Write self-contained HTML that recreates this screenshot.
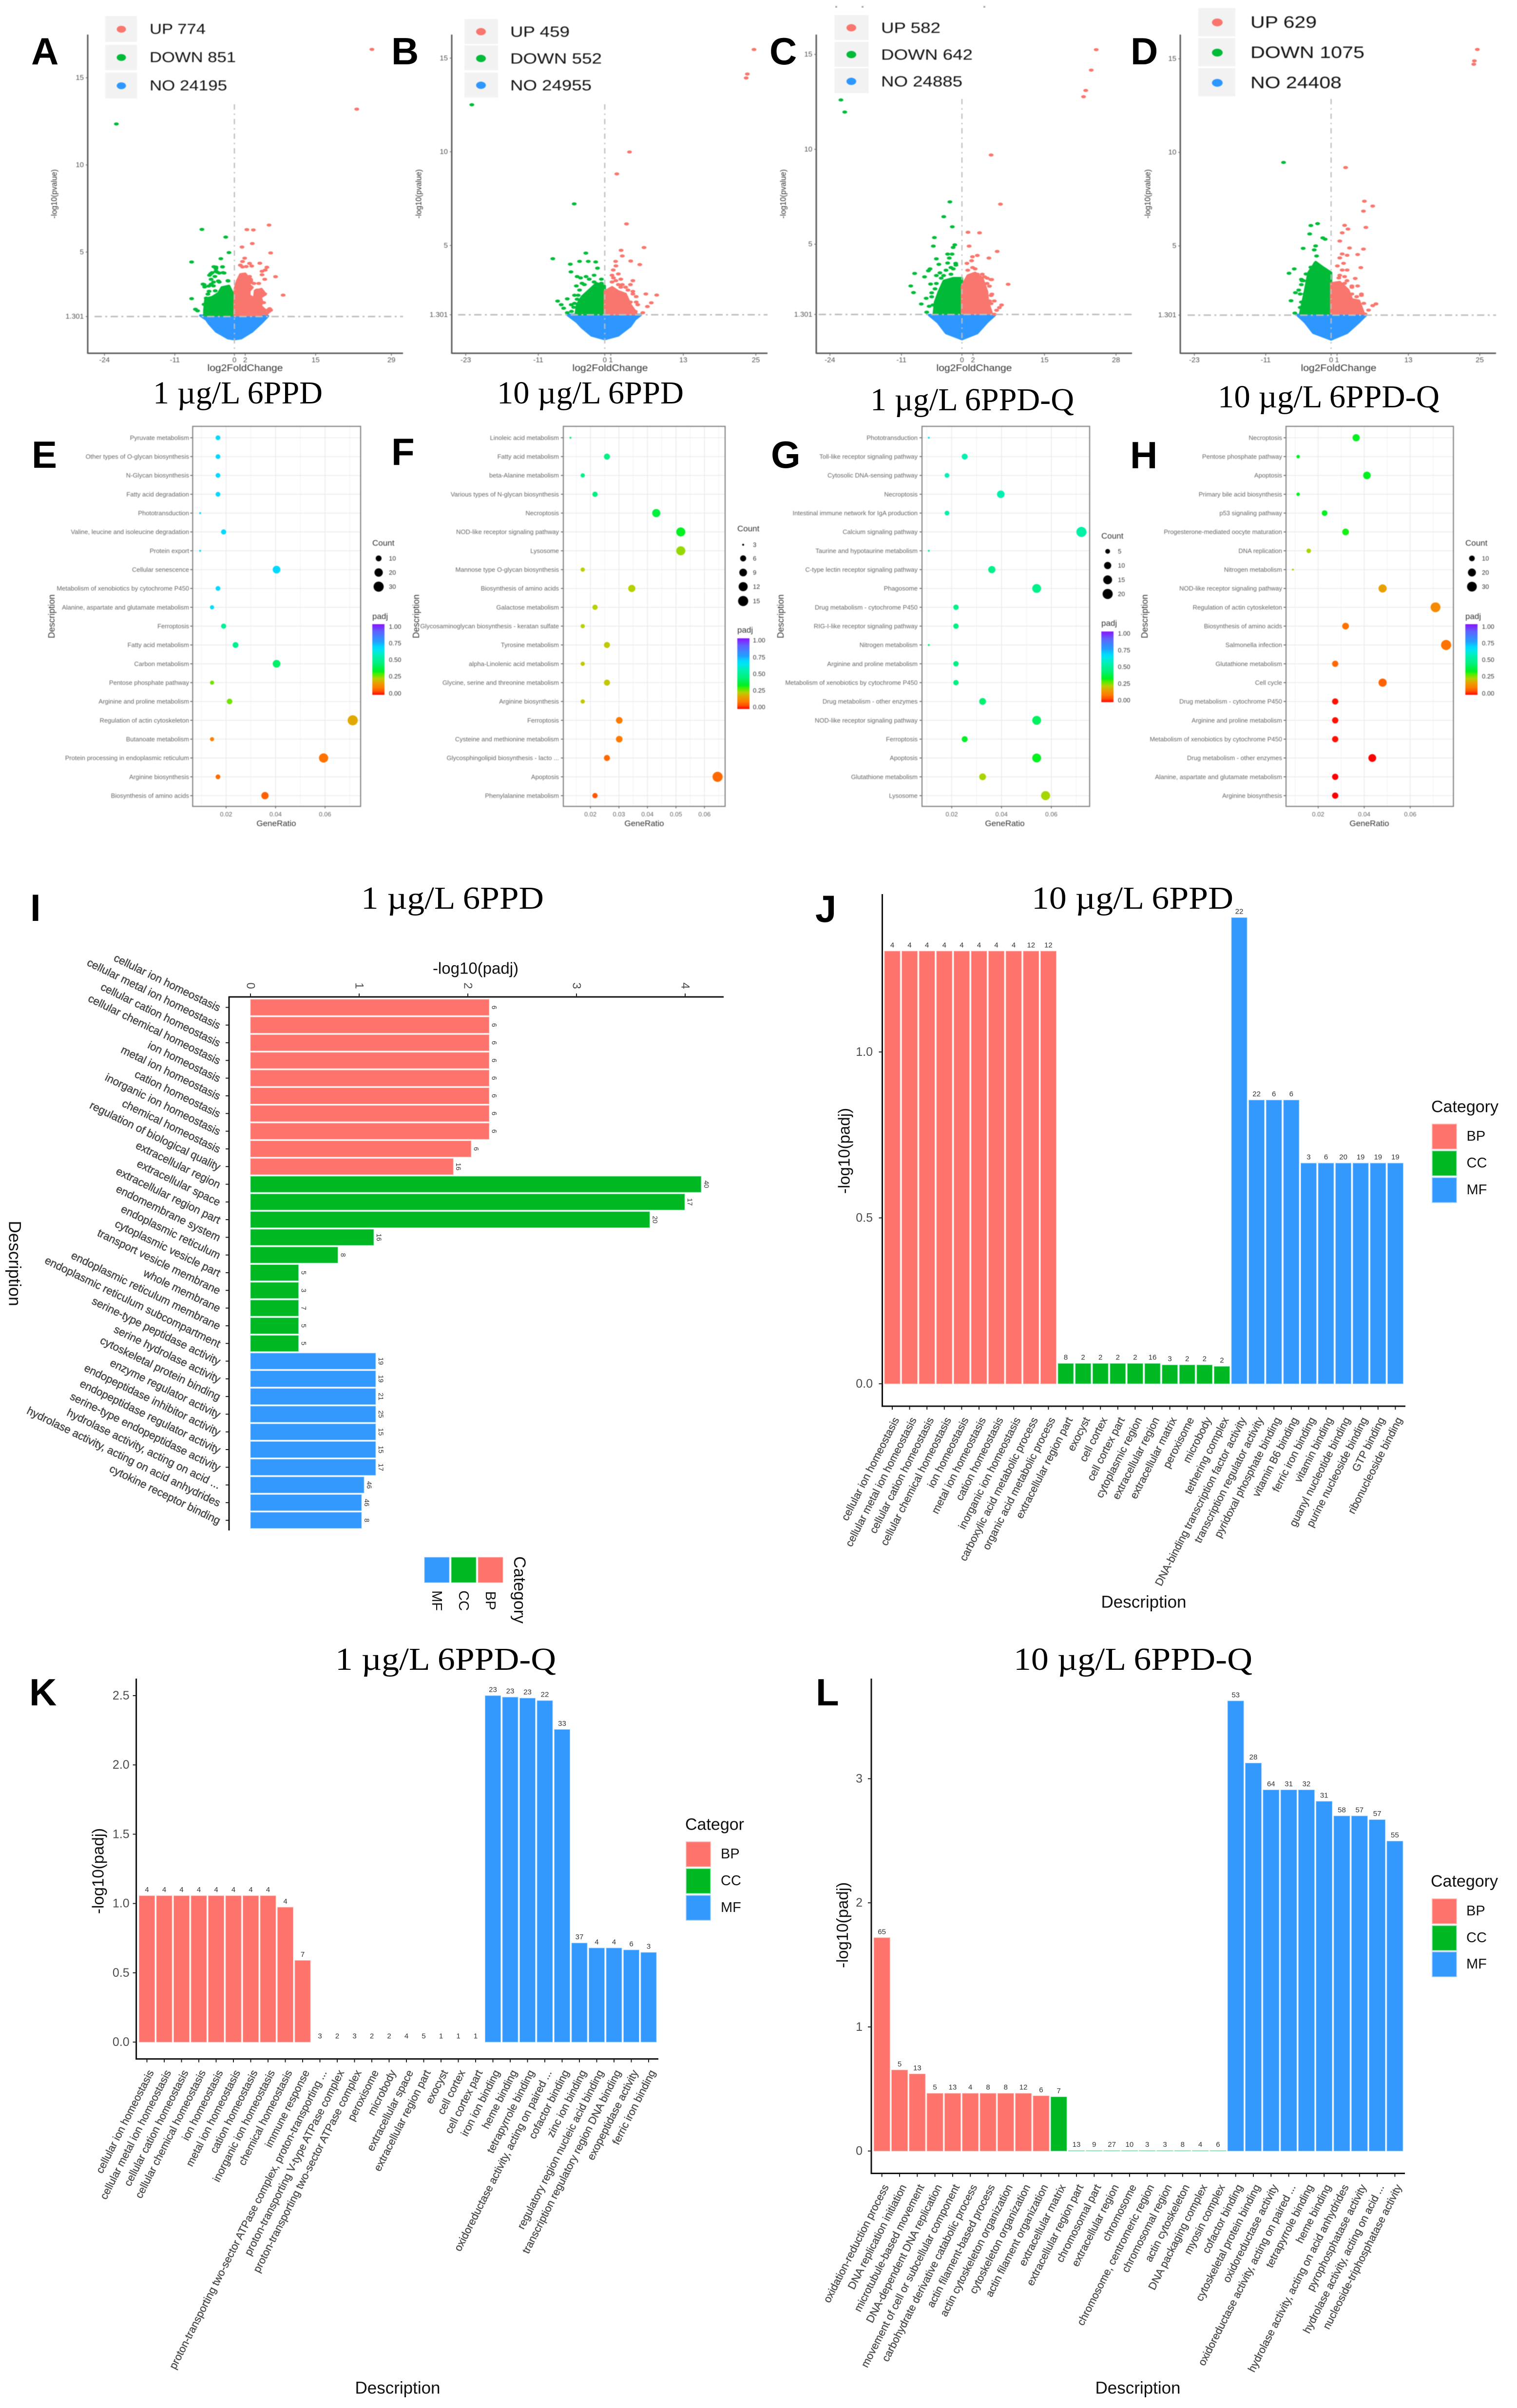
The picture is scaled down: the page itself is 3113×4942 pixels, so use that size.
<!DOCTYPE html>
<html lang="en">
<head>
<meta charset="utf-8">
<title>Transcriptome response to 6PPD and 6PPD-Q</title>
<style>
html,body{margin:0;padding:0;background:#fff;}
svg{display:block;font-family:"Liberation Sans",sans-serif;}
.letter{font-family:"Liberation Sans",sans-serif;font-weight:bold;font-size:78px;fill:#000;}
.heading{font-family:"Liberation Serif",serif;font-size:66px;fill:#000;}
.soft{filter:blur(0.7px);}
</style>
</head>
<body>
<svg id="figure" xmlns="http://www.w3.org/2000/svg" width="3113" height="4942" viewBox="0 0 3113 4942">
<rect width="3113" height="4942" fill="#fff"/>
<defs id="defs"></defs>
<g id="volcano-layer" class="soft"></g>
<g id="dot-layer" class="soft"></g>
<g id="bar-layer"></g>

<text class="heading" x="314" y="828" textLength="348" lengthAdjust="spacingAndGlyphs">1 µg/L 6PPD</text>
<text class="heading" x="1020" y="828" textLength="383" lengthAdjust="spacingAndGlyphs">10 µg/L 6PPD</text>
<text class="heading" x="1786" y="842" textLength="418" lengthAdjust="spacingAndGlyphs">1 µg/L 6PPD-Q</text>
<text class="heading" x="2499" y="836" textLength="455" lengthAdjust="spacingAndGlyphs">10 µg/L 6PPD-Q</text>
<text class="heading" x="741" y="1865" textLength="375" lengthAdjust="spacingAndGlyphs">1 µg/L 6PPD</text>
<text class="heading" x="2117" y="1865" textLength="414" lengthAdjust="spacingAndGlyphs">10 µg/L 6PPD</text>
<text class="heading" x="688" y="3427" textLength="453" lengthAdjust="spacingAndGlyphs">1 µg/L 6PPD-Q</text>
<text class="heading" x="2080" y="3427" textLength="490" lengthAdjust="spacingAndGlyphs">10 µg/L 6PPD-Q</text>

<text class="letter" x="64" y="132">A</text>
<text class="letter" x="803" y="132">B</text>
<text class="letter" x="1579" y="132">C</text>
<text class="letter" x="2320" y="132">D</text>
<text class="letter" x="65" y="960">E</text>
<text class="letter" x="803" y="954">F</text>
<text class="letter" x="1582" y="960">G</text>
<text class="letter" x="2319" y="961">H</text>
<text class="letter" x="62" y="1890">I</text>
<text class="letter" x="1673" y="1892">J</text>
<text class="letter" x="60" y="3500">K</text>
<text class="letter" x="1674" y="3500">L</text>
<rect x="1714" y="12" width="4" height="4" fill="#bbb"/>
<rect x="1768" y="12" width="4" height="4" fill="#bbb"/>
<rect x="2018" y="12" width="4" height="4" fill="#bbb"/>
</svg>

<script>
/* ---------- Volcano data: [log2FoldChange, -log10(pvalue)] ---------- */
const xTicksA=[-24,-11,0,2,15,29];
const yTicksA=[1.301,5,10,15];
const upPointsA=[[25.4,16.63],[22.6,13.2],[6.4,6.55],[2.3,6.29],[3.5,6.27],[3.3,5.49],[1.4,5.29],[6.7,4.95],[1.9,4.65],[1.5,4.46],[4.7,4.36],[6,4.13],[3.2,4.2],[2.2,4.17],[1.1,4.25],[5.1,3.9],[5.7,3.97],[7.6,3.59],[5.6,3.44],[4.5,3.2],[9,2.53],[5.1,2.75],[5.6,2.6],[4.2,2.82],[6.2,1.67],[6.7,1.67],[6.4,1.6],[6,1.5],[3.6,3.2],[2.8,3.6],[4.6,2.4],[5.4,2.1],[1.5,4.15],[2.8,4.35],[6.5,1.75],[5.8,1.45],[5.1,3.7]];
const downPointsA=[[-21.8,12.35],[-6,6.3],[-1.6,5.86],[-1,4.97],[-2.5,4.62],[-7.9,4.43],[-3.8,4.16],[-2.2,4.16],[-3.4,4.05],[-3.2,3.85],[-4.1,3.82],[-4.6,3.67],[-2.1,3.82],[-1.2,3.36],[-2.8,3.28],[-3.85,3.28],[-5.6,3.13],[-4.75,3.05],[-7.9,2.33],[-7.2,1.72],[-6.8,1.63],[-4.9,2.59],[-5.2,2.36],[-5.6,2],[-5.8,3.16],[-5.5,3],[-4.68,2.75],[-4.3,3.16],[-2.97,3.34],[-1.17,3.34],[-3.54,2.78],[-3.87,3.06],[-4.3,3.44],[-3.6,3.6],[-4.35,3.76],[-3.4,4.14],[-2.2,4.15],[-3.4,3.9],[-1.9,3.8],[-2.8,3.8]];
const upCloudA=[[0,1.38],[0.06,2.88],[0.5,3.34],[1.1,3.72],[2,3.76],[2.45,3.58],[3.2,3.43],[3.25,3.25],[2.45,3.2],[3.35,2.97],[2.76,2.78],[2.76,2.5],[3.66,2.36],[3.8,2.78],[5,2.88],[5.76,2.58],[4.86,2.41],[5.15,2.13],[4.86,1.91],[5.76,1.66],[4.86,1.38]];
const downCloudA=[[0,1.38],[-0.39,2.69],[-1,3.06],[-2.34,2.97],[-2.97,2.64],[-4.14,2.41],[-5.34,2.33],[-5.55,1.66],[-5.55,1.38]];
const noCloudA=[[-6.3,1.36],[-5.2,1.13],[-4.7,0.9],[-3.4,0.45],[-1.2,0.06],[0,0],[1.25,0.06],[3.3,0.45],[5.1,0.97],[6.2,1.33]];

const xTicksB=[-23,-11,0,1,13,25];
const yTicksB=[1.301,5,10,15];
const upPointsB=[[24.7,15.46],[23.6,14.15],[23.4,13.94],[4.1,9.99],[2,8.82],[3.6,6.15],[6.5,4.89],[2.7,4.74],[2.9,4.44],[1.8,4.15],[4.3,4.17],[5.8,3.98],[1.85,3.91],[1.4,3.69],[2.25,3.48],[1.2,3.41],[4.65,3.12],[4.25,2.91],[2.9,2.91],[1.85,3.12],[8.6,2.35],[6.8,2.41],[4.65,2.41],[7.7,1.94],[7.06,1.74],[6.3,1.41],[5.2,1.98],[2.65,2.77],[1.2,3.05],[2.25,2.91],[3.45,2.77],[4.65,2.55],[5.2,2.27],[4.25,1.98],[5.46,1.84],[3.85,2.62],[2.65,2.48],[1.44,3.27],[2.65,3.2],[5.05,1.48]];
const downPointsB=[[-22,12.51],[-5.06,7.22],[-3.13,4.59],[-8.6,4.29],[-4.17,4.15],[-2.73,4.15],[-1.5,4.12],[-5.7,4],[-1.2,3.79],[-5.6,3.59],[-4.57,3.34],[-4,3.27],[-1.77,3.41],[-0.56,3.2],[-3.1,3.34],[-4.7,2.84],[-7.8,2.03],[-6.2,2.15],[-7.2,1.84],[-6.8,1.65],[-5.5,1.48],[-6.2,1.41],[-5,1.91],[-4.4,2.34],[-2.57,3.2],[-3.37,2.91],[-4.17,2.62],[-5,2.34],[-4.57,2.13],[-5.14,1.7],[-1.77,3.05],[-3.77,2.98],[-5.54,1.84],[-0.56,2.98]];
const upCloudB=[[0,1.34],[0,2.55],[1.2,2.77],[2.25,2.55],[3.45,2.41],[4.25,1.84],[5.2,1.41],[5.2,1.34]];
const downCloudB=[[0,1.34],[0,2.84],[-1.36,2.98],[-2.57,2.62],[-3.77,2.27],[-4.57,1.84],[-4.8,1.34]];
const noCloudB=[[-6.2,1.3],[-4.6,0.91],[-3.8,0.63],[-2.2,0.2],[0,0],[2.25,0.2],[4.25,0.7],[5.05,1.06],[6,1.3]];

const xTicksC=[-24,-11,0,2,15,28];
const yTicksC=[1.301,5,10,15];
const upPointsC=[[24.4,15.25],[23.5,14.17],[22.5,13.1],[22.1,12.77],[5.3,9.7],[7,7.11],[1.1,5.63],[3.2,5.6],[1.3,4.9],[6.4,4.62],[2.8,4.41],[1.9,4.34],[4.9,4.27],[0.9,3.99],[1.75,4.13],[4.6,3.21],[5.4,3.14],[8.4,2.89],[3.7,3.42],[2.4,3.7],[5,2.79],[7.2,1.8],[6.8,1.66],[6.3,1.52],[5.9,1.31],[5.3,2.3],[5.3,1.87],[1.93,3.77],[2.8,3.42],[4.12,3.28],[5.26,3.14],[3.25,3.07],[4.56,2.93],[5.44,2.37],[5,2.01],[5.88,2.01],[1.05,3.63],[3.86,2.86]];
const downPointsC=[[-22,12.6],[-21.3,11.96],[-2.2,7.23],[-3.3,6.45],[-1.75,5.92],[-5,5.35],[-5.2,4.9],[-1.3,4.97],[-1.6,4.83],[-2.6,4.48],[-1.8,4.48],[-2.3,4.27],[-4.65,4.23],[-4.2,3.94],[-2.6,4.01],[-5.8,3.7],[-6.1,3.6],[-8.6,3.46],[-4.65,3.35],[-6.8,3.28],[-9.3,2.8],[-5.7,2.9],[-8.8,2.45],[-6.5,2.15],[-7.4,1.85],[-6.4,1.42],[-5.5,2.44],[-1.1,3.9],[-2,3.77],[-1.14,3.99],[-1.58,3.7],[-2.9,3.63],[-3.77,3.21],[-4.65,2.93],[-4.9,2.65],[-5.5,2.23],[-5.26,1.8],[-5.96,1.73],[-4,3.49],[-2,3.42],[-3.33,3.35]];
const upCloudC=[[0,1.35],[0,2.79],[1.05,3.35],[2.4,3.49],[3.7,3.21],[4.56,2.5],[4.74,1.94],[5.44,1.35]];
const downCloudC=[[0,1.35],[0,3.21],[-1.6,3.21],[-3.3,3.07],[-4.2,2.5],[-4.9,1.94],[-5.1,1.35]];
const noCloudC=[[-6,1.27],[-4.4,0.89],[-2.9,0.32],[0,0],[2.8,0.32],[4.56,0.89],[6,1.27]];

const xTicksD=[-23,-11,0,1,13,25];
const yTicksD=[1.301,5,10,15];
const upPointsD=[[24.6,15.5],[24.1,14.89],[24,14.71],[2.44,9.19],[5.6,7.39],[7,7.13],[5.44,6.86],[2.27,6.1],[5.85,5.99],[2.84,5.9],[1.87,5.7],[1.46,5.26],[3.1,4.89],[5.44,4.83],[1.87,4.57],[4.47,4.54],[1.46,4.36],[2.7,4.5],[1.06,3.93],[2.1,4.07],[5,3.84],[2.7,3.71],[4.06,3.26],[2.27,3.36],[1.3,3.29],[4.47,2.86],[3.5,2.79],[7.55,1.9],[7,1.81],[6.3,1.57],[5.7,1.36],[5.1,2.43],[1.46,3.43],[2.68,3.14],[3.5,2.86],[2.27,3],[4.3,2.29],[5.1,2.36],[5.5,1.93],[4.3,2],[3.5,2.43],[1.87,3.71],[2.68,2.57],[4.7,1.71]];
const downPointsD=[[-8,9.46],[-2.27,6.19],[-3.4,6.09],[-3.6,5.64],[-1.4,5.43],[-1,5.36],[-2.6,5],[-4.7,4.87],[-2.84,4.79],[-2.44,4.46],[-2.6,4.07],[-6.2,3.77],[-7.07,3.54],[-3.8,3.5],[-4.87,3.14],[-5,2.93],[-5.2,2.43],[-6.74,2.07],[-6.1,1.41],[-4.6,1.93],[-3.4,3.86],[-4.22,3.5],[-4.63,3.14],[-5,3.21],[-5.44,2.64],[-5,2],[-4.63,1.57],[-5.2,1.71],[-4.4,2.43],[-3.8,3],[-6,2.5]];
const upCloudD=[[0,1.39],[0,3],[1.46,3.07],[2.9,2.64],[3.5,2.14],[4.7,2.07],[5.5,1.39]];
const downCloudD=[[0,1.39],[0,3.57],[-1.4,3.86],[-2.6,4.14],[-3.8,3.57],[-4.4,2.57],[-5.2,1.39]];
const noCloudD=[[-5.7,1.31],[-4.4,0.93],[-3,0.36],[0,0],[2.7,0.36],[4.7,0.93],[5.9,1.31]];

/* ---------- Dot plot data ---------- */
const termsE=["Pyruvate metabolism","Other types of O-glycan biosynthesis","N-Glycan biosynthesis","Fatty acid degradation","Phototransduction","Valine, leucine and isoleucine degradation","Protein export","Cellular senescence","Metabolism of xenobiotics by cytochrome P450","Alanine, aspartate and glutamate metabolism","Ferroptosis","Fatty acid metabolism","Carbon metabolism","Pentose phosphate pathway","Arginine and proline metabolism","Regulation of actin cytoskeleton","Butanoate metabolism","Protein processing in endoplasmic reticulum","Arginine biosynthesis","Biosynthesis of amino acids"];
const ratiosE=[.0167,.0167,.0167,.0167,.0095,.019,.0095,.0404,.0167,.0143,.019,.0238,.0404,.0143,.0214,.0712,.0143,.0594,.0167,.0357];
const countsE=[7,7,7,7,4,8,4,17,7,6,8,10,17,6,9,30,6,25,7,15];
const padjE=[.68,.68,.68,.68,.66,.68,.66,.68,.68,.66,.5,.48,.42,.27,.27,.18,.11,.09,.08,.07];
const xTicksDotE=[.02,.04,.06];
const countKeyE=[10,20,30];

const termsF=["Linoleic acid metabolism","Fatty acid metabolism","beta-Alanine metabolism","Various types of N-glycan biosynthesis","Necroptosis","NOD-like receptor signaling pathway","Lysosome","Mannose type O-glycan biosynthesis","Biosynthesis of amino acids","Galactose metabolism","Glycosaminoglycan biosynthesis - keratan sulfate","Tyrosine metabolism","alpha-Linolenic acid metabolism","Glycine, serine and threonine metabolism","Arginine biosynthesis","Ferroptosis","Cysteine and methionine metabolism","Glycosphingolipid biosynthesis - lacto ...","Apoptosis","Phenylalanine metabolism"];
const ratiosF=[.013,.0258,.0173,.0216,.0431,.0517,.0517,.0173,.0345,.0216,.0173,.0258,.0173,.0258,.0173,.0301,.0301,.0258,.0646,.0216];
const countsF=[3,6,4,5,10,12,12,4,8,5,4,6,4,6,4,7,7,6,15,5];
const padjF=[.46,.46,.46,.45,.37,.33,.25,.23,.23,.23,.23,.22,.22,.22,.22,.1,.1,.08,.08,.06];
const xTicksDotF=[.02,.03,.04,.05,.06];
const countKeyF=[3,6,9,12,15];

const termsG=["Phototransduction","Toll-like receptor signaling pathway","Cytosolic DNA-sensing pathway","Necroptosis","Intestinal immune network for IgA production","Calcium signaling pathway","Taurine and hypotaurine metabolism","C-type lectin receptor signaling pathway","Phagosome","Drug metabolism - cytochrome P450","RIG-I-like receptor signaling pathway","Nitrogen metabolism","Arginine and proline metabolism","Metabolism of xenobiotics by cytochrome P450","Drug metabolism - other enzymes","NOD-like receptor signaling pathway","Ferroptosis","Apoptosis","Glutathione metabolism","Lysosome"];
const ratiosG=[.0108,.0252,.0181,.0397,.0181,.0721,.0108,.0361,.0541,.0217,.0217,.0108,.0217,.0217,.0324,.0541,.0252,.0541,.0324,.0577];
const countsG=[3,7,5,11,5,20,3,10,15,6,6,3,6,6,9,15,7,15,9,16];
const padjG=[.62,.55,.55,.55,.53,.53,.5,.47,.47,.47,.45,.45,.45,.45,.43,.41,.34,.33,.24,.24];
const xTicksDotG=[.02,.04,.06];
const countKeyG=[5,10,15,20];

const termsH=["Necroptosis","Pentose phosphate pathway","Apoptosis","Primary bile acid biosynthesis","p53 signaling pathway","Progesterone-mediated oocyte maturation","DNA replication","Nitrogen metabolism","NOD-like receptor signaling pathway","Regulation of actin cytoskeleton","Biosynthesis of amino acids","Salmonella infection","Glutathione metabolism","Cell cycle","Drug metabolism - cytochrome P450","Arginine and proline metabolism","Metabolism of xenobiotics by cytochrome P450","Drug metabolism - other enzymes","Alanine, aspartate and glutamate metabolism","Arginine biosynthesis"];
const ratiosH=[.0365,.0113,.0412,.0113,.0228,.0319,.0159,.009,.048,.071,.0319,.0756,.0274,.048,.0274,.0274,.0274,.0435,.0274,.0274];
const countsH=[16,5,18,5,10,14,7,4,21,31,14,33,12,21,12,12,12,19,12,12];
const padjH=[.33,.33,.33,.33,.33,.32,.24,.24,.17,.13,.09,.09,.08,.07,.01,.01,.01,0,0,0];
const xTicksDotH=[.02,.04,.06];
const countKeyH=[10,20,30];

const padjKey=[1,.75,.5,.25,0];
const padjKeyText=["1.00","0.75","0.50","0.25","0.00"];

/* ---------- GO bar data ---------- */
const termsI=["cellular ion homeostasis","cellular metal ion homeostasis","cellular cation homeostasis","cellular chemical homeostasis","ion homeostasis","metal ion homeostasis","cation homeostasis","inorganic ion homeostasis","chemical homeostasis","regulation of biological quality","extracellular region","extracellular space","extracellular region part","endomembrane system","endoplasmic reticulum","cytoplasmic vesicle part","transport vesicle membrane","whole membrane","endoplasmic reticulum membrane","endoplasmic reticulum subcompartment","serine-type peptidase activity","serine hydrolase activity","cytoskeletal protein binding","enzyme regulator activity","endopeptidase inhibitor activity","endopeptidase regulator activity","serine-type endopeptidase activity","hydrolase activity, acting on acid ...","hydrolase activity, acting on acid anhydrides","cytokine receptor binding"];
const groupsI=["BP","BP","BP","BP","BP","BP","BP","BP","BP","BP","CC","CC","CC","CC","CC","CC","CC","CC","CC","CC","MF","MF","MF","MF","MF","MF","MF","MF","MF","MF"];
const valuesI=[2.196,2.196,2.196,2.196,2.196,2.196,2.196,2.196,2.03,1.866,4.147,3.996,3.674,1.134,.804,.442,.442,.442,.442,.442,1.152,1.152,1.152,1.152,1.152,1.152,1.152,1.045,1.022,1.022];
const printedI=[6,6,6,6,6,6,6,6,6,16,40,17,20,16,8,5,3,7,5,5,19,19,21,25,15,15,17,46,46,8];
const ticksI=[0,1,2,3,4];

const termsJ=["cellular ion homeostasis","cellular metal ion homeostasis","cellular cation homeostasis","cellular chemical homeostasis","ion homeostasis","metal ion homeostasis","cation homeostasis","inorganic ion homeostasis","carboxylic acid metabolic process","organic acid metabolic process","extracellular region part","exocyst","cell cortex","cell cortex part","cytoplasmic region","extracellular region","extracellular matrix","peroxisome","microbody","tethering complex","DNA-binding transcription factor activity","transcription regulator activity","pyridoxal phosphate binding","vitamin B6 binding","ferric iron binding","vitamin binding","guanyl nucleotide binding","purine nucleoside binding","GTP binding","ribonucleoside binding"];
const groupsJ=["BP","BP","BP","BP","BP","BP","BP","BP","BP","BP","CC","CC","CC","CC","CC","CC","CC","CC","CC","CC","MF","MF","MF","MF","MF","MF","MF","MF","MF","MF"];
const valuesJ=[1.304,1.304,1.304,1.304,1.304,1.304,1.304,1.304,1.304,1.304,.0614,.0614,.0614,.0614,.0614,.0614,.057,.057,.057,.0526,1.405,.855,.855,.855,.665,.665,.665,.665,.665,.665];
const printedJ=[4,4,4,4,4,4,4,4,12,12,8,2,2,2,2,16,3,2,2,2,22,22,6,6,3,6,20,19,19,19];
const ticksJ=[0,.5,1];
const tickTextJ=["0.0","0.5","1.0"];

const termsK=["cellular ion homeostasis","cellular metal ion homeostasis","cellular cation homeostasis","cellular chemical homeostasis","ion homeostasis","metal ion homeostasis","cation homeostasis","inorganic ion homeostasis","chemical homeostasis","immune response","proton-transporting two-sector ATPase complex, proton-transporting ...","proton-transporting V-type ATPase complex","proton-transporting two-sector ATPase complex","peroxisome","microbody","extracellular space","extracellular region part","exocyst","cell cortex","cell cortex part","iron ion binding","heme binding","tetrapyrrole binding","oxidoreductase activity, acting on paired ...","cofactor binding","zinc ion binding","regulatory region nucleic acid binding","transcription regulatory region DNA binding","exopeptidase activity","ferric iron binding"];
const groupsK=["BP","BP","BP","BP","BP","BP","BP","BP","BP","BP","CC","CC","CC","CC","CC","CC","CC","CC","CC","CC","MF","MF","MF","MF","MF","MF","MF","MF","MF","MF"];
const valuesK=[1.056,1.056,1.056,1.056,1.056,1.056,1.056,1.056,.973,.589,0,0,0,0,0,0,0,0,0,0,2.5,2.489,2.482,2.464,2.256,.715,.679,.679,.665,.647];
const printedK=[4,4,4,4,4,4,4,4,4,7,3,2,3,2,2,4,5,1,1,1,23,23,23,22,33,37,4,4,6,3];
const ticksK=[0,.5,1,1.5,2,2.5];
const tickTextK=["0.0","0.5","1.0","1.5","2.0","2.5"];

const termsL=["oxidation-reduction process","DNA replication initiation","microtubule-based movement","DNA-dependent DNA replication","movement of cell or subcellular component","carbohydrate derivative catabolic process","actin filament-based process","actin cytoskeleton organization","cytoskeleton organization","actin filament organization","extracellular matrix","extracellular region part","chromosomal part","extracellular region","chromosome","chromosome, centromeric region","chromosomal region","actin cytoskeleton","DNA packaging complex","myosin complex","cofactor binding","cytoskeletal protein binding","oxidoreductase activity","oxidoreductase activity, acting on paired ...","tetrapyrrole binding","heme binding","hydrolase activity, acting on acid anhydrides","pyrophosphatase activity","hydrolase activity, acting on acid ...","nucleoside-triphosphatase activity"];
const groupsL=["BP","BP","BP","BP","BP","BP","BP","BP","BP","BP","CC","CC","CC","CC","CC","CC","CC","CC","CC","CC","MF","MF","MF","MF","MF","MF","MF","MF","MF","MF"];
const valuesL=[1.719,.653,.621,.465,.465,.465,.465,.465,.465,.445,.437,.004,.004,.004,.004,.004,.004,.004,.004,.004,3.627,3.126,2.91,2.91,2.91,2.818,2.7,2.7,2.67,2.497];
const printedL=[65,5,13,5,13,4,8,8,12,6,7,13,9,27,10,3,3,8,4,6,53,28,64,31,32,31,58,57,57,55];
const ticksL=[0,1,2,3];
const tickTextL=["0","1","2","3"];

const categoryNames=["BP","CC","MF"];

/* ---------- Helpers ---------- */
const NS='http://www.w3.org/2000/svg';
const UP_RED='#F8766D',DOWN_GREEN='#00BA38',NO_BLUE='#2E97FF';
const BAR_FILL={BP:'#FF736D',CC:'#00B922',MF:'#3399FF'};
const BAR_EDGE={BP:'#ffb4ae',CC:'#8fe6b4',MF:'#9ccfff'};
const RAINBOW=[[0,'#ff0000'],[.05,'#ff5000'],[.1,'#ff7a00'],[.17,'#e8a000'],[.23,'#b8d000'],[.3,'#40f000'],[.33,'#00f020'],[.45,'#00f080'],[.55,'#00f0b0'],[.62,'#00e8e8'],[.68,'#00d8ff'],[.75,'#20a0ff'],[.9,'#6060ff'],[1,'#8a10ff']];

function make(parent,tag,attrs){
  const el=document.createElementNS(NS,tag);
  for(const k in attrs)el.setAttribute(k,attrs[k]);
  parent.appendChild(el);
  return el;
}
function write(parent,str,name,attrs){
  const el=make(parent,'text',Object.assign({'dominant-baseline':'central'},attrs));
  el.textContent=str;
  
  
  return el;
}
function stroke(parent,name,x1,y1,x2,y2,color,width,dash){
  const el=make(parent,'line',{x1:x1,y1:y1,x2:x2,y2:y2,stroke:color,'stroke-width':width});
  if(dash)el.setAttribute('stroke-dasharray',dash);
  
  
  return el;
}
function hexToRgb(h){return [1,3,5].map(i=>parseInt(h.substr(i,2),16));}
function padjColor(v){
  for(let i=1;i<RAINBOW.length;i++){
    if(v<=RAINBOW[i][0]){
      const a=RAINBOW[i-1],b=RAINBOW[i],t=(v-a[0])/(b[0]-a[0]);
      const ca=hexToRgb(a[1]),cb=hexToRgb(b[1]);
      return 'rgb('+ca.map((c,j)=>Math.round(c+(cb[j]-c)*t)).join(',')+')';
    }
  }
  return RAINBOW[RAINBOW.length-1][1];
}

/* ---------- Volcano plots ---------- */
const volcanoPanels=[
 {id:'a',up:upPointsA,down:downPointsA,upCloud:upCloudA,downCloud:downCloudA,noCloud:noCloudA,xTicks:xTicksA,yTicks:yTicksA,left:180,right:827,x0:481,xu:11.11,y0:696.2,yu:35.77,hStart:194,vTop:214,xTitle:503,yTitle:111,
  key:{x:216,w:65,dotX:249,textX:307,font:30,rx:9.5,ry:7,rows:[[33,53,'UP 774',115,UP_RED,60],[92,52,'DOWN 851',177,DOWN_GREEN,118],[149,53,'NO 24195',159,NO_BLUE,176]]}},
 {id:'b',up:upPointsB,down:downPointsB,upCloud:upCloudB,downCloud:downCloudB,noCloud:noCloudB,xTicks:xTicksB,yTicks:yTicksB,left:927,right:1575,x0:1241,xu:12.4,y0:696,yu:38.45,hStart:940,vTop:214,xTitle:1252,yTitle:859,
  key:{x:953,w:69,dotX:987,textX:1047,font:31,rx:10,ry:7.5,rows:[[39,51,'UP 459',122,UP_RED,65],[93,51,'DOWN 552',188,DOWN_GREEN,120],[149,51,'NO 24955',167,NO_BLUE,175]]}},
 {id:'c',up:upPointsC,down:downPointsC,upCloud:upCloudC,downCloud:downCloudC,noCloud:noCloudC,xTicks:xTicksC,yTicks:yTicksC,left:1675,right:2323,x0:1974,xu:11.29,y0:696,yu:38.96,hStart:1680,vTop:203,xTitle:1999,yTitle:1607,
  key:{x:1712.5,w:70,dotX:1747,textX:1808,font:31,rx:10,ry:7.5,rows:[[31,51,'UP 582',122,UP_RED,57],[86,51,'DOWN 642',188,DOWN_GREEN,112],[140,51,'NO 24885',167,NO_BLUE,167]]}},
 {id:'d',up:upPointsD,down:downPointsD,upCloud:upCloudD,downCloud:downCloudD,noCloud:noCloudD,xTicks:xTicksD,yTicks:yTicksD,left:2422,right:3070,x0:2731.5,xu:12.2,y0:696.7,yu:38.4,hStart:2437,vTop:203,xTitle:2747,yTitle:2355,
  key:{x:2459,w:76,dotX:2498,textX:2566,font:34,rx:11,ry:8,rows:[[16.5,58,'UP 629',136,UP_RED,46],[78,58,'DOWN 1075',234,DOWN_GREEN,108],[140,57.5,'NO 24408',187,NO_BLUE,170]]}}
];
function drawVolcano(p){
  const g=make(document.getElementById('volcano-layer'),'g',{});
  
  
  const X=v=>p.x0+v*p.xu, Y=v=>p.y0-v*p.yu;
  const hull=(pts,color,name)=>{
    const el=make(g,'polygon',{points:pts.map(q=>X(q[0]).toFixed(1)+','+Y(q[1]).toFixed(1)).join(' '),fill:color,stroke:color,'stroke-width':5,'stroke-linejoin':'round'});
    
    
  };
  hull(p.noCloud,NO_BLUE,'not-significant-cloud');
  hull(p.downCloud,DOWN_GREEN,'down-regulated-cloud');
  hull(p.upCloud,UP_RED,'up-regulated-cloud');
  p.up.forEach(q=>{
    const el=make(g,'ellipse',{cx:X(q[0]).toFixed(1),cy:Y(q[1]).toFixed(1),rx:5,ry:3.2,fill:UP_RED});
    
    
  });
  p.down.forEach(q=>{
    const el=make(g,'ellipse',{cx:X(q[0]).toFixed(1),cy:Y(q[1]).toFixed(1),rx:5,ry:3.2,fill:DOWN_GREEN});
    
    
  });
  stroke(g,'pvalue-threshold-line',p.hStart,Y(1.301),p.right,Y(1.301),'#bdbdbd',3,'15 7 4 7');
  stroke(g,'zero-fold-change-line',X(0),p.vTop,X(0),716,'#bdbdbd',2.5,'11 8 3 8');
  stroke(g,'y-axis-line',p.left,71,p.left,726,'#5a5a5a',3);
  stroke(g,'x-axis-line',p.left,725,p.right,725,'#5a5a5a',3);
  p.xTicks.forEach(t=>{
    stroke(g,'x-tick',X(t),725,X(t),730,'#666',1.5);
    write(g,String(t),'x-tick-label',{x:X(t),y:739,'text-anchor':'middle','font-size':15,fill:'#555'});
  });
  p.yTicks.forEach(t=>{
    stroke(g,'y-tick',p.left-4,Y(t),p.left,Y(t),'#666',1.5);
    write(g,String(t),'y-tick-label',{x:p.left-8,y:Y(t),'text-anchor':'end','font-size':15,fill:'#555'});
  });
  write(g,'log2FoldChange','x-axis-title',{x:p.xTitle,y:756,'text-anchor':'middle','font-size':19,fill:'#333',textLength:155,lengthAdjust:'spacingAndGlyphs'});
  write(g,'-log10(pvalue)','y-axis-title',{transform:'translate('+p.yTitle+',398) rotate(-90)','text-anchor':'middle','font-size':17,fill:'#333',textLength:101,lengthAdjust:'spacingAndGlyphs'});
  p.key.rows.forEach(r=>{
    const box=make(g,'rect',{x:p.key.x,y:r[0],width:p.key.w,height:r[1],fill:'#f2f2f2'});
    
    
    const dot=make(g,'ellipse',{cx:p.key.dotX,cy:r[5],rx:p.key.rx,ry:p.key.ry,fill:r[4]});
    
    
    write(g,r[2],'legend-entry',{x:p.key.textX,y:r[5],'font-size':p.key.font,fill:'#111',textLength:r[3],lengthAdjust:'spacingAndGlyphs'});
  });
}
volcanoPanels.forEach(drawVolcano);

/* ---------- Dot plots ---------- */
const dotPanels=[
 {id:'e',terms:termsE,ratios:ratiosE,counts:countsE,padj:padjE,ticks:xTicksDotE,left:395.4,right:740,at02:464,perUnit:5075,labelEnd:388,yTitle:106,xTitle:567,
  key:{x:764,dotX:777,textX:798,countY:1114.5,counts:countKeyE,countYs:[1146,1175,1204],padjY:1265,barTop:1281,barBottom:1426,textYs:[1286,1320,1354,1388,1423]}},
 {id:'f',terms:termsF,ratios:ratiosF,counts:countsF,padj:padjF,ticks:xTicksDotF,left:1156,right:1488,at02:1211.6,perUnit:5850,labelEnd:1147,yTitle:854,xTitle:1322,
  key:{x:1513,dotX:1525,textX:1545,countY:1085,counts:countKeyF,countYs:[1118,1146,1175,1204,1233.5],padjY:1293,barTop:1310,barBottom:1455,textYs:[1314,1349,1383,1417,1451]}},
 {id:'g',terms:termsG,ratios:ratiosG,counts:countsG,padj:padjG,ticks:xTicksDotG,left:1892,right:2236,at02:1953,perUnit:5110,labelEnd:1883,yTitle:1602,xTitle:2062,
  key:{x:2260,dotX:2273,textX:2294,countY:1100,counts:countKeyG,countYs:[1131.5,1160.6,1190,1219],padjY:1279,barTop:1296,barBottom:1441,textYs:[1300,1334.5,1368.5,1403,1437]}},
 {id:'h',terms:termsH,ratios:ratiosH,counts:countsH,padj:padjH,ticks:xTicksDotH,left:2639,right:2982.5,at02:2705,perUnit:4722,labelEnd:2631,yTitle:2349,xTitle:2810,
  key:{x:3007,dotX:3020.5,textX:3041,countY:1114.5,counts:countKeyH,countYs:[1146,1175,1204],padjY:1265,barTop:1281,barBottom:1426,textYs:[1286,1320,1354,1388,1423]}}
];
const grad=make(document.getElementById('defs'),'linearGradient',{id:'padj-ramp',x1:0,y1:1,x2:0,y2:0});
RAINBOW.forEach(s=>{make(grad,'stop',{offset:s[0],'stop-color':s[1]});});

function drawDots(p){
  const g=make(document.getElementById('dot-layer'),'g',{});
  
  
  const TOP=875,BOTTOM=1655,FIRST=898.4,STEP=38.66;
  const X=v=>p.at02+(v-.02)*p.perUnit, Y=i=>FIRST+i*STEP;
  const lo=Math.min.apply(null,p.counts),hi=Math.max.apply(null,p.counts);
  const R=c=>2+8.4*Math.sqrt(Math.max(0,c-lo)/(hi-lo));
  const minorStep=(p.ticks[1]-p.ticks[0])/2;
  for(let v=p.ticks[0]-minorStep;v<=p.ticks[p.ticks.length-1]+minorStep*1.5;v+=minorStep){
    if(X(v)>p.left&&X(v)<p.right)stroke(g,'x-gridline',X(v),TOP,X(v),BOTTOM,'#f0f0f0',1);
  }
  p.ticks.forEach(t=>stroke(g,'x-major-gridline',X(t),TOP,X(t),BOTTOM,'#e8e8e8',1.4));
  p.terms.forEach((t,i)=>{
    stroke(g,'row-gridline',p.left,Y(i),p.right,Y(i),'#e8e8e8',1.4);
    stroke(g,'y-tick',p.left-5,Y(i),p.left,Y(i),'#555',1.6);
    write(g,t,'pathway-label',{x:p.labelEnd,y:Y(i),'text-anchor':'end','font-size':13,fill:'#666'});
  });
  p.terms.forEach((t,i)=>{
    const dot=make(g,'circle',{cx:X(p.ratios[i]).toFixed(1),cy:Y(i).toFixed(1),r:R(p.counts[i]).toFixed(1),fill:padjColor(p.padj[i])});
    
    
  });
  const frame=make(g,'rect',{x:p.left,y:TOP,width:p.right-p.left,height:BOTTOM-TOP,fill:'none',stroke:'#808080','stroke-width':2.2});
  
  
  p.ticks.forEach(t=>{
    stroke(g,'x-tick',X(t),BOTTOM,X(t),BOTTOM+4,'#555',1.4);
    write(g,t.toFixed(2),'x-tick-label',{x:X(t),y:1671,'text-anchor':'middle','font-size':13,fill:'#666'});
  });
  write(g,'GeneRatio','x-axis-title',{x:p.xTitle,y:1690,'text-anchor':'middle','font-size':17,fill:'#333'});
  write(g,'Description','y-axis-title',{transform:'translate('+p.yTitle+',1265) rotate(-90)','text-anchor':'middle','font-size':18,fill:'#333'});
  const k=p.key;
  write(g,'Count','size-legend-title',{x:k.x,y:k.countY,'font-size':17,fill:'#333'});
  k.counts.forEach((c,i)=>{
    const dot=make(g,'circle',{cx:k.dotX,cy:k.countYs[i],r:R(c).toFixed(1),fill:'#000'});
    
    
    write(g,String(c),'size-legend-label',{x:k.textX,y:k.countYs[i],'font-size':13,fill:'#333'});
  });
  write(g,'padj','color-legend-title',{x:k.x,y:k.padjY,'font-size':17,fill:'#333'});
  const bar=make(g,'rect',{x:k.x,y:k.barTop,width:25,height:k.barBottom-k.barTop,fill:'url(#padj-ramp)'});
  
  
  padjKeyText.forEach((t,i)=>{
    write(g,t,'color-legend-label',{x:k.textX,y:k.textYs[i],'font-size':13,fill:'#333'});
  });
}
dotPanels.forEach(drawDots);

/* ---------- Panel I: horizontal bars ---------- */
(function drawPanelI(){
  const g=make(document.getElementById('bar-layer'),'g',{});
  
  
  const X=v=>514+v*223, Y=i=>2067.5+i*36.3;
  termsI.forEach((t,i)=>{
    const cat=groupsI[i];
    const bar=make(g,'rect',{x:X(0),y:(Y(i)-16.5).toFixed(1),width:(X(valuesI[i])-X(0)).toFixed(1),height:33,fill:BAR_FILL[cat],stroke:BAR_EDGE[cat],'stroke-width':1});
    
    
    write(g,String(printedI[i]),'gene-count-label',{transform:'translate('+(X(valuesI[i])+11).toFixed(1)+','+Y(i).toFixed(1)+') rotate(90)','text-anchor':'middle','font-size':14,fill:'#333'});
    stroke(g,'y-tick',463,Y(i),470,Y(i),'#222',2);
    write(g,t,'term-label',{transform:'translate(451,'+(Y(i)+2).toFixed(1)+') rotate(26)','text-anchor':'end','font-size':22.5,fill:'#4d4d4d',stroke:'#4d4d4d','stroke-width':.6});
  });
  stroke(g,'y-axis-line',470,2045,470,3141,'#111',3);
  stroke(g,'value-axis-line',469,2046,1485,2046,'#111',3);
  ticksI.forEach(t=>{
    stroke(g,'value-tick',X(t),2039,X(t),2046,'#222',2);
    write(g,String(t),'value-tick-label',{transform:'translate('+X(t)+',2023) rotate(90)','text-anchor':'middle','font-size':24,fill:'#4d4d4d'});
  });
  write(g,'-log10(padj)','value-axis-title',{x:976,y:1987,'text-anchor':'middle','font-size':33,fill:'#111'});
  write(g,'Description','term-axis-title',{transform:'translate(30,2593) rotate(90)','text-anchor':'middle','font-size':35,fill:'#111'});
  [['MF',871],['CC',926],['BP',981]].forEach(e=>{
    const box=make(g,'rect',{x:e[1],y:3196,width:51,height:52,fill:BAR_FILL[e[0]],stroke:BAR_EDGE[e[0]],'stroke-width':1});
    
    
    write(g,e[0],'category-legend-label',{transform:'translate('+(e[1]+25)+',3285) rotate(90)','text-anchor':'middle','font-size':29,fill:'#111'});
  });
  write(g,'Category','category-legend-title',{transform:'translate(1066,3263) rotate(90)','text-anchor':'middle','font-size':34,fill:'#111'});
})();

/* ---------- Panels J K L: column bars ---------- */
const columnPanels=[
 {id:'j',terms:termsJ,groups:groupsJ,values:valuesJ,printed:printedJ,ticks:ticksJ,tickText:tickTextJ,first:1831,step:35.6,barW:32,zero:2840,unit:681,left:1810.5,right:2884,top:1835,bottom:2886,tickEnd:1791,yTitleX:1732,yTitleY:2362,xTitleX:2347,xTitleY:3288,legendTitle:'Category',legendTitleX:2937,legendTitleY:2271.5,legendX:2939,legendLabelX:3009.5,legendTops:[2307,2362,2417]},
 {id:'k',terms:termsK,groups:groupsK,values:valuesK,printed:printedK,ticks:ticksK,tickText:tickTextK,first:301.5,step:35.5,barW:32,zero:4191,unit:284.4,left:279.6,right:1351,top:3445,bottom:4225.6,tickEnd:265.7,yTitleX:201,yTitleY:3840,xTitleX:816,xTitleY:4901,legendTitle:'Categor',legendTitleX:1406,legendTitleY:3744.5,legendX:1408,legendLabelX:1479,legendTops:[3780,3835,3890]},
 {id:'l',terms:termsL,groups:groupsL,values:valuesL,printed:printedL,ticks:ticksL,tickText:tickTextL,first:1809.7,step:36.3,barW:33,zero:4414.6,unit:254.7,left:1788,right:2883,top:3445,bottom:4460.5,tickEnd:1770,yTitleX:1728.6,yTitleY:3951,xTitleX:2335,xTitleY:4901,legendTitle:'Category',legendTitleX:2936,legendTitleY:3861,legendX:2939,legendLabelX:3009,legendTops:[3897,3952,4006]}
];
function drawColumns(p){
  const g=make(document.getElementById('bar-layer'),'g',{});
  
  
  const X=i=>p.first+i*p.step, Y=v=>p.zero-v*p.unit;
  p.terms.forEach((t,i)=>{
    const cat=p.groups[i],v=p.values[i];
    if(v>0){
      const bar=make(g,'rect',{x:(X(i)-p.barW/2).toFixed(1),y:Y(v).toFixed(1),width:p.barW,height:(p.zero-Y(v)).toFixed(1),fill:BAR_FILL[cat],stroke:BAR_EDGE[cat],'stroke-width':1});
      
      
    }
    write(g,String(p.printed[i]),'gene-count-label',{x:X(i).toFixed(1),y:(Y(v)-12).toFixed(1),'text-anchor':'middle','font-size':15,fill:'#333'});
    stroke(g,'x-tick',X(i),p.bottom,X(i),p.bottom+7,'#222',2);
    write(g,t,'term-label',{transform:'translate('+(X(i)+8).toFixed(1)+','+(p.bottom+24)+') rotate(-63)','text-anchor':'end','font-size':22,fill:'#4d4d4d',stroke:'#4d4d4d','stroke-width':.4});
  });
  stroke(g,'y-axis-line',p.left,p.top,p.left,p.bottom+1.5,'#111',3);
  stroke(g,'x-axis-line',p.left,p.bottom,p.right,p.bottom,'#111',3);
  p.ticks.forEach((t,i)=>{
    stroke(g,'y-tick',p.left-7,Y(t),p.left,Y(t),'#222',2);
    write(g,p.tickText[i],'y-tick-label',{x:p.tickEnd,y:Y(t),'text-anchor':'end','font-size':25,fill:'#4d4d4d'});
  });
  write(g,'-log10(padj)','y-axis-title',{transform:'translate('+p.yTitleX+','+p.yTitleY+') rotate(-90)','text-anchor':'middle','font-size':33,fill:'#111'});
  write(g,'Description','x-axis-title',{x:p.xTitleX,y:p.xTitleY,'text-anchor':'middle','font-size':35,fill:'#111'});
  write(g,p.legendTitle,'category-legend-title',{x:p.legendTitleX,y:p.legendTitleY,'font-size':34,fill:'#111'});
  categoryNames.forEach((c,i)=>{
    const box=make(g,'rect',{x:p.legendX,y:p.legendTops[i],width:50,height:51,fill:BAR_FILL[c],stroke:BAR_EDGE[c],'stroke-width':1.5});
    
    
    write(g,c,'category-legend-label',{x:p.legendLabelX,y:p.legendTops[i]+25,'font-size':29,fill:'#111'});
  });
}
columnPanels.forEach(drawColumns);
</script>
</body>
</html>
